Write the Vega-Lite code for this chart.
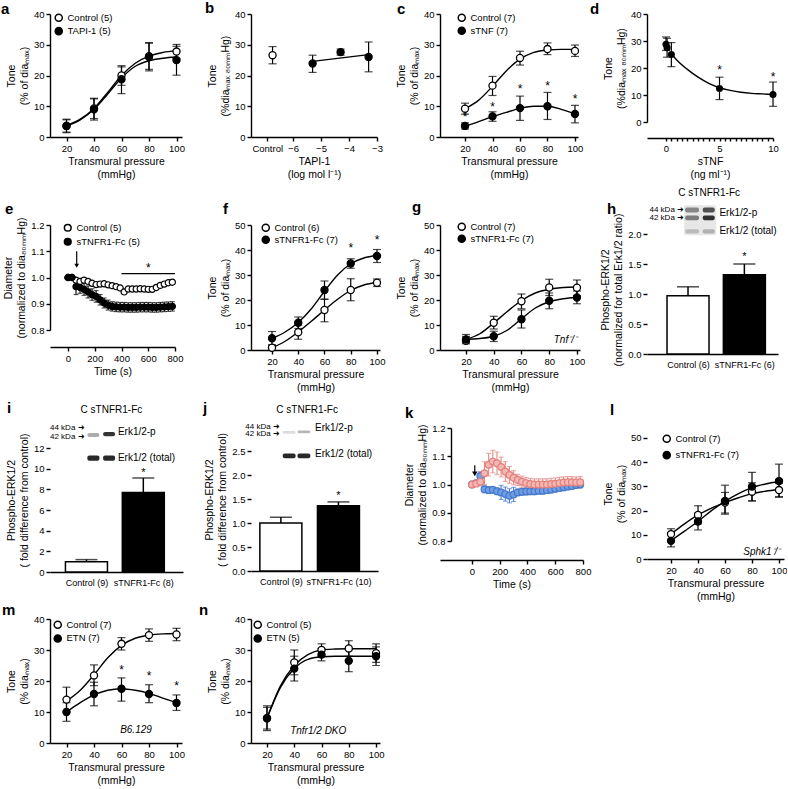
{
"$schema": "https://vega.github.io/schema/vega-lite/v6.json",
"padding": 0,
"background": "white",
"bounds": "flush",
"spacing": 0,
"columns": 8,
"align": "each",
"resolve": {"scale": {"fill": "independent", "stroke": "independent", "color": "independent"}},
"config": {
 "view": {"stroke": null},
 "font": "Liberation Sans",
 "axis": {"domainColor": "black", "domainWidth": 1.4, "tickColor": "black", "tickWidth": 1.4, "tickSize": 4, "labelFont": "Liberation Sans", "labelFontSize": 9.5, "labelColor": "black", "labelPadding": 2, "labelOverlap": false, "labelFlush": false, "titleFont": "Liberation Sans", "titleFontSize": 10.5, "titleFontWeight": "normal", "titleColor": "black", "titlePadding": 4, "titleLineHeight": 13, "grid": false},
 "legend": {"labelFont": "Liberation Sans", "labelFontSize": 9.5, "labelColor": "black", "padding": 0, "labelOffset": 4, "symbolSize": 45, "symbolType": "circle"},
 "title": {"anchor": "start", "frame": "group", "font": "Liberation Sans", "fontSize": 15, "fontWeight": "bold", "color": "black", "baseline": "alphabetic"},
 "text": {"font": "Liberation Sans", "color": "black"}
},
"datasets": {
 "a_curve": [{"group":"Control (5)","x":20,"y":3.8},{"group":"Control (5)","x":30,"y":5.8},{"group":"Control (5)","x":40,"y":9.3},{"group":"Control (5)","x":50,"y":14.5},{"group":"Control (5)","x":60,"y":20},{"group":"Control (5)","x":70,"y":24},{"group":"Control (5)","x":80,"y":26.3},{"group":"Control (5)","x":90,"y":27.5},{"group":"Control (5)","x":100,"y":28},
  {"group":"TAPI-1 (5)","x":20,"y":3.6},{"group":"TAPI-1 (5)","x":30,"y":5.6},{"group":"TAPI-1 (5)","x":40,"y":9.0},{"group":"TAPI-1 (5)","x":50,"y":14},{"group":"TAPI-1 (5)","x":60,"y":19.2},{"group":"TAPI-1 (5)","x":70,"y":23},{"group":"TAPI-1 (5)","x":80,"y":24.8},{"group":"TAPI-1 (5)","x":90,"y":25.6},{"group":"TAPI-1 (5)","x":100,"y":26}],
 "a_pts": [{"group":"Control (5)","x":20,"y":3.6,"lo":1.6,"hi":5.8},{"group":"Control (5)","x":40,"y":9.3,"lo":6.0,"hi":12.6},{"group":"Control (5)","x":60,"y":20.0,"lo":16.8,"hi":22.8},{"group":"Control (5)","x":80,"y":26.0,"lo":22.0,"hi":30.7},{"group":"Control (5)","x":100,"y":27.8,"lo":25.5,"hi":30.1},
  {"group":"TAPI-1 (5)","x":20,"y":3.6,"lo":1.4,"hi":5.6},{"group":"TAPI-1 (5)","x":40,"y":9.0,"lo":5.5,"hi":12.4},{"group":"TAPI-1 (5)","x":60,"y":18.8,"lo":14.1,"hi":23.2},{"group":"TAPI-1 (5)","x":80,"y":26.3,"lo":21.5,"hi":30.5},{"group":"TAPI-1 (5)","x":100,"y":25.0,"lo":20.1,"hi":29.5}],
 "b_line": [{"x":-5.3,"y":24.6},{"x":-3.3,"y":26.8}],
 "b_pts": [{"group":"Control","x":-6.73,"y":26.6,"lo":23.8,"hi":29.4},{"group":"TAPI-1","x":-5.3,"y":23.9,"lo":21.0,"hi":26.6},{"group":"TAPI-1","x":-4.3,"y":27.6,"lo":26.6,"hi":28.6},{"group":"TAPI-1","x":-3.3,"y":26.0,"lo":21.2,"hi":30.9}],
 "c_curve": [{"group":"Control (7)","x":20,"y":9.2},{"group":"Control (7)","x":30,"y":12},{"group":"Control (7)","x":40,"y":16.5},{"group":"Control (7)","x":50,"y":21.5},{"group":"Control (7)","x":60,"y":25.3},{"group":"Control (7)","x":70,"y":27.5},{"group":"Control (7)","x":80,"y":28.3},{"group":"Control (7)","x":90,"y":28.5},{"group":"Control (7)","x":100,"y":28.5},
  {"group":"sTNF (7)","x":20,"y":3.5},{"group":"sTNF (7)","x":30,"y":5},{"group":"sTNF (7)","x":40,"y":6.6},{"group":"sTNF (7)","x":50,"y":8},{"group":"sTNF (7)","x":60,"y":9.3},{"group":"sTNF (7)","x":70,"y":10},{"group":"sTNF (7)","x":80,"y":10},{"group":"sTNF (7)","x":90,"y":9},{"group":"sTNF (7)","x":100,"y":7.5}],
 "c_pts": [{"group":"Control (7)","x":20,"y":9.2,"lo":7.4,"hi":11.0},{"group":"Control (7)","x":40,"y":16.7,"lo":13.5,"hi":19.7},{"group":"Control (7)","x":60,"y":25.7,"lo":23.4,"hi":27.9},{"group":"Control (7)","x":80,"y":28.6,"lo":26.8,"hi":30.6},{"group":"Control (7)","x":100,"y":28.0,"lo":26.2,"hi":29.9},
  {"group":"sTNF (7)","x":20,"y":3.6,"lo":2.6,"hi":4.6},{"group":"sTNF (7)","x":40,"y":6.7,"lo":5.1,"hi":8.2},{"group":"sTNF (7)","x":60,"y":9.4,"lo":5.4,"hi":13.3},{"group":"sTNF (7)","x":80,"y":10.0,"lo":5.7,"hi":14.5},{"group":"sTNF (7)","x":100,"y":7.5,"lo":4.6,"hi":10.3}],
 "c_stars": [{"x":20,"y":6.5},{"x":40,"y":9.9},{"x":60,"y":15.5},{"x":80,"y":16.5},{"x":100,"y":12.3}],
 "d_curve": [{"x":0.5,"y":25.3},{"x":1,"y":23},{"x":2,"y":19.5},{"x":3,"y":16.6},{"x":4,"y":14.3},{"x":5,"y":12.7},{"x":6,"y":11.7},{"x":7,"y":11.0},{"x":8,"y":10.6},{"x":9,"y":10.4},{"x":10,"y":10.2}],
 "d_pts": [{"x":0,"y":28.8,"lo":26.5,"hi":31.5},{"x":0.1,"y":27.5,"lo":24.0,"hi":31.0},{"x":0.5,"y":25.0,"lo":20.5,"hi":29.4},{"x":5,"y":12.4,"lo":8.3,"hi":16.6},{"x":10,"y":10.2,"lo":5.8,"hi":14.8}],
 "d_stars": [{"x":5,"y":19.1},{"x":10,"y":16.8}],
 "e_pts": [
  {"group":"Control (5)","t":0,"y":1.0,"lo":0.996,"hi":1.004},{"group":"Control (5)","t":30,"y":1.0,"lo":0.996,"hi":1.004},{"group":"Control (5)","t":60,"y":0.99,"lo":0.982,"hi":0.998},{"group":"Control (5)","t":90,"y":0.985,"lo":0.977,"hi":0.993},{"group":"Control (5)","t":120,"y":0.99,"lo":0.982,"hi":0.998},{"group":"Control (5)","t":150,"y":0.985,"lo":0.977,"hi":0.993},{"group":"Control (5)","t":180,"y":0.978,"lo":0.970,"hi":0.986},{"group":"Control (5)","t":210,"y":0.973,"lo":0.965,"hi":0.981},{"group":"Control (5)","t":240,"y":0.975,"lo":0.967,"hi":0.983},{"group":"Control (5)","t":270,"y":0.976,"lo":0.968,"hi":0.984},{"group":"Control (5)","t":300,"y":0.972,"lo":0.964,"hi":0.980},{"group":"Control (5)","t":330,"y":0.969,"lo":0.961,"hi":0.977},{"group":"Control (5)","t":360,"y":0.965,"lo":0.957,"hi":0.973},{"group":"Control (5)","t":390,"y":0.96,"lo":0.952,"hi":0.968},{"group":"Control (5)","t":420,"y":0.945,"lo":0.937,"hi":0.953},{"group":"Control (5)","t":450,"y":0.956,"lo":0.948,"hi":0.964},{"group":"Control (5)","t":480,"y":0.956,"lo":0.948,"hi":0.964},{"group":"Control (5)","t":510,"y":0.956,"lo":0.948,"hi":0.964},{"group":"Control (5)","t":540,"y":0.957,"lo":0.949,"hi":0.965},{"group":"Control (5)","t":570,"y":0.956,"lo":0.948,"hi":0.964},{"group":"Control (5)","t":600,"y":0.955,"lo":0.947,"hi":0.963},{"group":"Control (5)","t":630,"y":0.955,"lo":0.947,"hi":0.963},{"group":"Control (5)","t":660,"y":0.962,"lo":0.954,"hi":0.970},{"group":"Control (5)","t":690,"y":0.97,"lo":0.962,"hi":0.978},{"group":"Control (5)","t":720,"y":0.975,"lo":0.967,"hi":0.983},{"group":"Control (5)","t":750,"y":0.98,"lo":0.972,"hi":0.988},{"group":"Control (5)","t":780,"y":0.982,"lo":0.974,"hi":0.990},
  {"group":"sTNFR1-Fc (5)","t":0,"y":1.0,"lo":0.996,"hi":1.004},{"group":"sTNFR1-Fc (5)","t":30,"y":1.0,"lo":0.995,"hi":1.005},{"group":"sTNFR1-Fc (5)","t":60,"y":0.965,"lo":0.935,"hi":0.995},{"group":"sTNFR1-Fc (5)","t":90,"y":0.962,"lo":0.94,"hi":0.984},{"group":"sTNFR1-Fc (5)","t":120,"y":0.955,"lo":0.932,"hi":0.978},{"group":"sTNFR1-Fc (5)","t":150,"y":0.945,"lo":0.922,"hi":0.968},{"group":"sTNFR1-Fc (5)","t":180,"y":0.935,"lo":0.913,"hi":0.957},{"group":"sTNFR1-Fc (5)","t":210,"y":0.928,"lo":0.906,"hi":0.95},{"group":"sTNFR1-Fc (5)","t":240,"y":0.915,"lo":0.895,"hi":0.935},{"group":"sTNFR1-Fc (5)","t":270,"y":0.903,"lo":0.884,"hi":0.922},{"group":"sTNFR1-Fc (5)","t":300,"y":0.895,"lo":0.876,"hi":0.914},{"group":"sTNFR1-Fc (5)","t":330,"y":0.89,"lo":0.872,"hi":0.908},{"group":"sTNFR1-Fc (5)","t":360,"y":0.888,"lo":0.870,"hi":0.906},{"group":"sTNFR1-Fc (5)","t":390,"y":0.887,"lo":0.869,"hi":0.905},{"group":"sTNFR1-Fc (5)","t":420,"y":0.887,"lo":0.869,"hi":0.905},{"group":"sTNFR1-Fc (5)","t":450,"y":0.886,"lo":0.868,"hi":0.904},{"group":"sTNFR1-Fc (5)","t":480,"y":0.886,"lo":0.868,"hi":0.904},{"group":"sTNFR1-Fc (5)","t":510,"y":0.886,"lo":0.868,"hi":0.904},{"group":"sTNFR1-Fc (5)","t":540,"y":0.887,"lo":0.869,"hi":0.905},{"group":"sTNFR1-Fc (5)","t":570,"y":0.887,"lo":0.869,"hi":0.905},{"group":"sTNFR1-Fc (5)","t":600,"y":0.887,"lo":0.869,"hi":0.905},{"group":"sTNFR1-Fc (5)","t":630,"y":0.886,"lo":0.868,"hi":0.904},{"group":"sTNFR1-Fc (5)","t":660,"y":0.886,"lo":0.868,"hi":0.904},{"group":"sTNFR1-Fc (5)","t":690,"y":0.887,"lo":0.869,"hi":0.905},{"group":"sTNFR1-Fc (5)","t":720,"y":0.888,"lo":0.870,"hi":0.906},{"group":"sTNFR1-Fc (5)","t":750,"y":0.889,"lo":0.871,"hi":0.907},{"group":"sTNFR1-Fc (5)","t":780,"y":0.89,"lo":0.872,"hi":0.908}],
 "e_sig": [{"t":400,"t2":800,"y":1.015}],
 "e_star": [{"t":600,"y":1.036}],
 "e_arrow": [{"t":65,"y":1.1,"y2":1.045}],
 "f_curve": [{"group":"Control (6)","x":20,"y":0.8},{"group":"Control (6)","x":30,"y":3.5},{"group":"Control (6)","x":40,"y":7.2},{"group":"Control (6)","x":50,"y":11.5},{"group":"Control (6)","x":60,"y":16},{"group":"Control (6)","x":70,"y":20.3},{"group":"Control (6)","x":80,"y":23.8},{"group":"Control (6)","x":90,"y":26},{"group":"Control (6)","x":100,"y":27},
  {"group":"sTNFR1-Fc (7)","x":20,"y":4.6},{"group":"sTNFR1-Fc (7)","x":30,"y":7.2},{"group":"sTNFR1-Fc (7)","x":40,"y":11},{"group":"sTNFR1-Fc (7)","x":50,"y":16.5},{"group":"sTNFR1-Fc (7)","x":60,"y":23.5},{"group":"sTNFR1-Fc (7)","x":70,"y":30},{"group":"sTNFR1-Fc (7)","x":80,"y":34.5},{"group":"sTNFR1-Fc (7)","x":90,"y":36.8},{"group":"sTNFR1-Fc (7)","x":100,"y":37.8}],
 "f_pts": [{"group":"Control (6)","x":20,"y":0.9,"lo":0,"hi":2.0},{"group":"Control (6)","x":40,"y":7.1,"lo":4.3,"hi":10.0},{"group":"Control (6)","x":60,"y":16.0,"lo":11.3,"hi":20.3},{"group":"Control (6)","x":80,"y":24.0,"lo":19.7,"hi":28.5},{"group":"Control (6)","x":100,"y":26.9,"lo":25.4,"hi":28.4},
  {"group":"sTNFR1-Fc (7)","x":20,"y":4.7,"lo":2.0,"hi":7.4},{"group":"sTNFR1-Fc (7)","x":40,"y":10.9,"lo":8.6,"hi":13.2},{"group":"sTNFR1-Fc (7)","x":60,"y":24.0,"lo":20.3,"hi":27.6},{"group":"sTNFR1-Fc (7)","x":80,"y":34.6,"lo":32.7,"hi":36.5},{"group":"sTNFR1-Fc (7)","x":100,"y":37.6,"lo":35.0,"hi":40.2}],
 "f_stars": [{"x":80,"y":40.7},{"x":100,"y":44}],
 "g_curve": [{"group":"Control (7)","x":20,"y":4.2},{"group":"Control (7)","x":30,"y":6.5},{"group":"Control (7)","x":40,"y":10.8},{"group":"Control (7)","x":50,"y":15.5},{"group":"Control (7)","x":60,"y":19.8},{"group":"Control (7)","x":70,"y":22.8},{"group":"Control (7)","x":80,"y":24.3},{"group":"Control (7)","x":90,"y":25},{"group":"Control (7)","x":100,"y":25.2},
  {"group":"sTNFR1-Fc (7)","x":20,"y":4.3},{"group":"sTNFR1-Fc (7)","x":30,"y":4.6},{"group":"sTNFR1-Fc (7)","x":40,"y":5.5},{"group":"sTNFR1-Fc (7)","x":50,"y":8},{"group":"sTNFR1-Fc (7)","x":60,"y":12.5},{"group":"sTNFR1-Fc (7)","x":70,"y":16.8},{"group":"sTNFR1-Fc (7)","x":80,"y":19.3},{"group":"sTNFR1-Fc (7)","x":90,"y":20.5},{"group":"sTNFR1-Fc (7)","x":100,"y":21}],
 "g_pts": [{"group":"Control (7)","x":20,"y":3.7,"lo":2.5,"hi":6.2},{"group":"Control (7)","x":40,"y":10.9,"lo":8.4,"hi":13.5},{"group":"Control (7)","x":60,"y":19.5,"lo":16.5,"hi":22.4},{"group":"Control (7)","x":80,"y":25.0,"lo":21.8,"hi":28.3},{"group":"Control (7)","x":100,"y":24.9,"lo":21.8,"hi":28.0},
  {"group":"sTNFR1-Fc (7)","x":20,"y":4.2,"lo":3.0,"hi":5.4},{"group":"sTNFR1-Fc (7)","x":40,"y":5.5,"lo":3.4,"hi":7.5},{"group":"sTNFR1-Fc (7)","x":60,"y":12.3,"lo":8.8,"hi":16.0},{"group":"sTNFR1-Fc (7)","x":80,"y":19.7,"lo":16.5,"hi":22.8},{"group":"sTNFR1-Fc (7)","x":100,"y":21.0,"lo":18.5,"hi":23.6}],
 "g_note": [{"x":100,"y":4,"label":"Tnf⁻/⁻"}],
 "h_bars": [{"group":"Control (6)","x":1,"y":0.97,"hi":1.12},{"group":"sTNFR1-Fc (6)","x":2,"y":1.32,"hi":1.5}],
 "h_star": [{"x":2,"y":1.61}],
 "h_blot": [{"x":0.93,"x2":1.5,"y":1.98,"y2":2.48,"intensity":0.1},{"x":0.949,"x2":1.195,"y":2.36,"y2":2.44,"intensity":0.45},{"x":0.949,"x2":1.195,"y":2.23,"y2":2.31,"intensity":0.5},{"x":1.261,"x2":1.474,"y":2.36,"y2":2.44,"intensity":0.7},{"x":1.261,"x2":1.474,"y":2.23,"y2":2.31,"intensity":0.85},{"x":0.949,"x2":1.195,"y":2.01,"y2":2.08,"intensity":0.2},{"x":1.261,"x2":1.474,"y":2.01,"y2":2.08,"intensity":0.25}],
 "h_kda": [{"x":0.93,"y":2.4,"label":"44 kDa ➜"},{"x":0.93,"y":2.27,"label":"42 kDa ➜"}],
 "h_lab": [{"x":1.557,"y":2.35,"label":"Erk1/2-p"},{"x":1.557,"y":2.05,"label":"Erk1/2 (total)"}],
 "h_head": [{"x":1.376,"y":2.68,"label":"C sTNFR1-Fc"}],
 "i_bars": [{"group":"Control (9)","x":1,"y":1.0,"hi":1.2},{"group":"sTNFR1-Fc (8)","x":2,"y":7.7,"hi":9.1}],
 "i_star": [{"x":2,"y":9.6}],
 "i_blot": [{"x":1.016,"x2":1.228,"y":13.06,"y2":13.46,"intensity":0.35},{"x":1.293,"x2":1.504,"y":13.15,"y2":13.55,"intensity":0.85},{"x":1.016,"x2":1.228,"y":10.78,"y2":11.28,"intensity":0.9},{"x":1.293,"x2":1.504,"y":10.78,"y2":11.28,"intensity":0.9}],
 "i_kda": [{"x":0.967,"y":13.94,"label":"44 kDa ➜"},{"x":0.967,"y":13.06,"label":"42 kDa ➜"}],
 "i_lab": [{"x":1.553,"y":13.55,"label":"Erk1/2-p"},{"x":1.553,"y":11.03,"label":"Erk1/2 (total)"}],
 "i_head": [{"x":1.439,"y":15.68,"label":"C sTNFR1-Fc"}],
 "j_bars": [{"group":"Control (9)","x":1,"y":1.0,"hi":1.12},{"group":"sTNFR1-Fc (10)","x":2,"y":1.36,"hi":1.44}],
 "j_star": [{"x":2,"y":1.56}],
 "j_blot": [{"x":1.032,"x2":1.256,"y":2.86,"y2":2.92,"intensity":0.15},{"x":1.288,"x2":1.512,"y":2.87,"y2":2.93,"intensity":0.3},{"x":1.032,"x2":1.256,"y":2.35,"y2":2.45,"intensity":0.9},{"x":1.288,"x2":1.512,"y":2.35,"y2":2.45,"intensity":0.9}],
 "j_kda": [{"x":0.984,"y":2.994,"label":"44 kDa ➜"},{"x":0.984,"y":2.848,"label":"42 kDa ➜"}],
 "j_lab": [{"x":1.592,"y":2.973,"label":"Erk1/2-p"},{"x":1.592,"y":2.43,"label":"Erk1/2 (total)"}],
 "j_head": [{"x":1.456,"y":3.354,"label":"C sTNFR1-Fc"}],
 "k_pts": [
  {"group":"PD98059 (8)","t":0,"y":1.0,"lo":0.996,"hi":1.004},{"group":"PD98059 (8)","t":30,"y":1.005,"lo":0.995,"hi":1.015},{"group":"PD98059 (8)","t":60,"y":1.03,"lo":1.015,"hi":1.045},{"group":"PD98059 (8)","t":90,"y":0.983,"lo":0.971,"hi":0.995},{"group":"PD98059 (8)","t":120,"y":0.98,"lo":0.968,"hi":0.992},{"group":"PD98059 (8)","t":150,"y":0.981,"lo":0.969,"hi":0.993},{"group":"PD98059 (8)","t":180,"y":0.976,"lo":0.964,"hi":0.988},{"group":"PD98059 (8)","t":210,"y":0.972,"lo":0.947,"hi":0.997},{"group":"PD98059 (8)","t":240,"y":0.966,"lo":0.941,"hi":0.991},{"group":"PD98059 (8)","t":270,"y":0.96,"lo":0.935,"hi":0.985},{"group":"PD98059 (8)","t":300,"y":0.965,"lo":0.94,"hi":0.99},{"group":"PD98059 (8)","t":330,"y":0.972,"lo":0.96,"hi":0.984},{"group":"PD98059 (8)","t":360,"y":0.974,"lo":0.962,"hi":0.986},{"group":"PD98059 (8)","t":390,"y":0.975,"lo":0.963,"hi":0.987},{"group":"PD98059 (8)","t":420,"y":0.976,"lo":0.964,"hi":0.988},{"group":"PD98059 (8)","t":450,"y":0.976,"lo":0.964,"hi":0.988},{"group":"PD98059 (8)","t":480,"y":0.978,"lo":0.966,"hi":0.99},{"group":"PD98059 (8)","t":510,"y":0.978,"lo":0.966,"hi":0.99},{"group":"PD98059 (8)","t":540,"y":0.98,"lo":0.968,"hi":0.992},{"group":"PD98059 (8)","t":570,"y":0.982,"lo":0.97,"hi":0.994},{"group":"PD98059 (8)","t":600,"y":0.985,"lo":0.973,"hi":0.997},{"group":"PD98059 (8)","t":630,"y":0.988,"lo":0.976,"hi":1.0},{"group":"PD98059 (8)","t":660,"y":0.99,"lo":0.978,"hi":1.002},{"group":"PD98059 (8)","t":690,"y":0.993,"lo":0.981,"hi":1.005},{"group":"PD98059 (8)","t":720,"y":0.995,"lo":0.983,"hi":1.007},{"group":"PD98059 (8)","t":750,"y":0.998,"lo":0.986,"hi":1.01},{"group":"PD98059 (8)","t":780,"y":1.0,"lo":0.988,"hi":1.012},
  {"group":"PD98059 + sTNFRI-Fc (8)","t":0,"y":1.0,"lo":0.995,"hi":1.005},{"group":"PD98059 + sTNFRI-Fc (8)","t":30,"y":1.003,"lo":0.995,"hi":1.011},{"group":"PD98059 + sTNFRI-Fc (8)","t":60,"y":1.01,"lo":0.995,"hi":1.025},{"group":"PD98059 + sTNFRI-Fc (8)","t":90,"y":1.04,"lo":1.0,"hi":1.08},{"group":"PD98059 + sTNFRI-Fc (8)","t":120,"y":1.07,"lo":1.03,"hi":1.11},{"group":"PD98059 + sTNFRI-Fc (8)","t":150,"y":1.081,"lo":1.041,"hi":1.121},{"group":"PD98059 + sTNFRI-Fc (8)","t":180,"y":1.075,"lo":1.035,"hi":1.115},{"group":"PD98059 + sTNFRI-Fc (8)","t":210,"y":1.062,"lo":1.027,"hi":1.097},{"group":"PD98059 + sTNFRI-Fc (8)","t":240,"y":1.046,"lo":1.011,"hi":1.081},{"group":"PD98059 + sTNFRI-Fc (8)","t":270,"y":1.034,"lo":1.004,"hi":1.064},{"group":"PD98059 + sTNFRI-Fc (8)","t":300,"y":1.024,"lo":0.999,"hi":1.049},{"group":"PD98059 + sTNFRI-Fc (8)","t":330,"y":1.016,"lo":0.996,"hi":1.036},{"group":"PD98059 + sTNFRI-Fc (8)","t":360,"y":1.01,"lo":0.99,"hi":1.03},{"group":"PD98059 + sTNFRI-Fc (8)","t":390,"y":1.005,"lo":0.985,"hi":1.025},{"group":"PD98059 + sTNFRI-Fc (8)","t":420,"y":1.002,"lo":0.982,"hi":1.022},{"group":"PD98059 + sTNFRI-Fc (8)","t":450,"y":1.0,"lo":0.98,"hi":1.02},{"group":"PD98059 + sTNFRI-Fc (8)","t":480,"y":1.0,"lo":0.98,"hi":1.02},{"group":"PD98059 + sTNFRI-Fc (8)","t":510,"y":1.0,"lo":0.98,"hi":1.02},{"group":"PD98059 + sTNFRI-Fc (8)","t":540,"y":1.0,"lo":0.98,"hi":1.02},{"group":"PD98059 + sTNFRI-Fc (8)","t":570,"y":1.002,"lo":0.982,"hi":1.022},{"group":"PD98059 + sTNFRI-Fc (8)","t":600,"y":1.003,"lo":0.983,"hi":1.023},{"group":"PD98059 + sTNFRI-Fc (8)","t":630,"y":1.005,"lo":0.985,"hi":1.025},{"group":"PD98059 + sTNFRI-Fc (8)","t":660,"y":1.007,"lo":0.987,"hi":1.027},{"group":"PD98059 + sTNFRI-Fc (8)","t":690,"y":1.008,"lo":0.988,"hi":1.028},{"group":"PD98059 + sTNFRI-Fc (8)","t":720,"y":1.008,"lo":0.988,"hi":1.028},{"group":"PD98059 + sTNFRI-Fc (8)","t":750,"y":1.007,"lo":0.987,"hi":1.027},{"group":"PD98059 + sTNFRI-Fc (8)","t":780,"y":1.008,"lo":0.988,"hi":1.028}],
 "k_arrow": [{"t":20,"y":1.068,"y2":1.038}],
 "l_curve": [{"group":"Control (7)","x":20,"y":10.3},{"group":"Control (7)","x":30,"y":14.5},{"group":"Control (7)","x":40,"y":18.2},{"group":"Control (7)","x":50,"y":21},{"group":"Control (7)","x":60,"y":23.3},{"group":"Control (7)","x":70,"y":25.3},{"group":"Control (7)","x":80,"y":27},{"group":"Control (7)","x":90,"y":28},{"group":"Control (7)","x":100,"y":28.7},
  {"group":"sTNFR1-Fc (7)","x":20,"y":7.6},{"group":"sTNFR1-Fc (7)","x":30,"y":11.5},{"group":"sTNFR1-Fc (7)","x":40,"y":15.5},{"group":"sTNFR1-Fc (7)","x":50,"y":20},{"group":"sTNFR1-Fc (7)","x":60,"y":23.8},{"group":"sTNFR1-Fc (7)","x":70,"y":27},{"group":"sTNFR1-Fc (7)","x":80,"y":29.5},{"group":"sTNFR1-Fc (7)","x":90,"y":31},{"group":"sTNFR1-Fc (7)","x":100,"y":32}],
 "l_pts": [{"group":"Control (7)","x":20,"y":10.3,"lo":8.2,"hi":12.5},{"group":"Control (7)","x":40,"y":18.2,"lo":14.5,"hi":22.0},{"group":"Control (7)","x":60,"y":23.3,"lo":19.0,"hi":27.5},{"group":"Control (7)","x":80,"y":27.8,"lo":24.0,"hi":31.5},{"group":"Control (7)","x":100,"y":28.5,"lo":25.8,"hi":31.2},
  {"group":"sTNFR1-Fc (7)","x":20,"y":7.5,"lo":5.0,"hi":10.0},{"group":"sTNFR1-Fc (7)","x":40,"y":15.5,"lo":12.0,"hi":19.0},{"group":"sTNFR1-Fc (7)","x":60,"y":24.0,"lo":18.5,"hi":30.5},{"group":"sTNFR1-Fc (7)","x":80,"y":29.9,"lo":24.0,"hi":35.8},{"group":"sTNFR1-Fc (7)","x":100,"y":32.2,"lo":25.5,"hi":39.2}],
 "l_note": [{"x":101,"y":3,"label":"Sphk1⁻/⁻"}],
 "m_curve": [{"group":"Control (7)","x":20,"y":13.5},{"group":"Control (7)","x":30,"y":17},{"group":"Control (7)","x":40,"y":22},{"group":"Control (7)","x":50,"y":27.5},{"group":"Control (7)","x":60,"y":31.5},{"group":"Control (7)","x":70,"y":33.8},{"group":"Control (7)","x":80,"y":34.8},{"group":"Control (7)","x":90,"y":35.2},{"group":"Control (7)","x":100,"y":35.3},
  {"group":"ETN (7)","x":20,"y":10},{"group":"ETN (7)","x":30,"y":13},{"group":"ETN (7)","x":40,"y":15.5},{"group":"ETN (7)","x":50,"y":17},{"group":"ETN (7)","x":60,"y":17.5},{"group":"ETN (7)","x":70,"y":17},{"group":"ETN (7)","x":80,"y":16},{"group":"ETN (7)","x":90,"y":14.5},{"group":"ETN (7)","x":100,"y":13}],
 "m_pts": [{"group":"Control (7)","x":20,"y":14.0,"lo":10.0,"hi":18.0},{"group":"Control (7)","x":40,"y":21.8,"lo":18.5,"hi":25.2},{"group":"Control (7)","x":60,"y":32.0,"lo":30.0,"hi":34.0},{"group":"Control (7)","x":80,"y":34.8,"lo":32.8,"hi":36.8},{"group":"Control (7)","x":100,"y":35.0,"lo":33.0,"hi":37.0},
  {"group":"ETN (7)","x":20,"y":10.0,"lo":7.0,"hi":13.0},{"group":"ETN (7)","x":40,"y":15.8,"lo":12.0,"hi":19.6},{"group":"ETN (7)","x":60,"y":17.5,"lo":13.5,"hi":21.0},{"group":"ETN (7)","x":80,"y":15.8,"lo":13.0,"hi":18.8},{"group":"ETN (7)","x":100,"y":12.9,"lo":10.5,"hi":15.5}],
 "m_stars": [{"x":60,"y":23.5},{"x":80,"y":21.5},{"x":100,"y":18.5}],
 "m_note": [{"x":59,"y":4.2,"label":"B6.129"}],
 "n_curve": [{"group":"Control (5)","x":20,"y":8},{"group":"Control (5)","x":30,"y":18.5},{"group":"Control (5)","x":40,"y":25},{"group":"Control (5)","x":50,"y":28.5},{"group":"Control (5)","x":60,"y":30},{"group":"Control (5)","x":70,"y":30.3},{"group":"Control (5)","x":80,"y":30.4},{"group":"Control (5)","x":90,"y":30.4},{"group":"Control (5)","x":100,"y":30.4},
  {"group":"ETN (5)","x":20,"y":8},{"group":"ETN (5)","x":30,"y":18},{"group":"ETN (5)","x":40,"y":24},{"group":"ETN (5)","x":50,"y":27},{"group":"ETN (5)","x":60,"y":27.8},{"group":"ETN (5)","x":70,"y":28},{"group":"ETN (5)","x":80,"y":28},{"group":"ETN (5)","x":90,"y":28},{"group":"ETN (5)","x":100,"y":28}],
 "n_pts": [{"group":"Control (5)","x":20,"y":8.0,"lo":4.0,"hi":12.0},{"group":"Control (5)","x":40,"y":26.0,"lo":22.0,"hi":30.0},{"group":"Control (5)","x":60,"y":30.0,"lo":28.0,"hi":32.0},{"group":"Control (5)","x":80,"y":30.5,"lo":28.0,"hi":33.0},{"group":"Control (5)","x":100,"y":29.0,"lo":26.0,"hi":32.0},
  {"group":"ETN (5)","x":20,"y":8.0,"lo":4.5,"hi":11.5},{"group":"ETN (5)","x":40,"y":24.0,"lo":20.0,"hi":28.0},{"group":"ETN (5)","x":60,"y":28.5,"lo":26.5,"hi":30.5},{"group":"ETN (5)","x":80,"y":26.5,"lo":23.0,"hi":30.0},{"group":"ETN (5)","x":100,"y":28.0,"lo":25.0,"hi":31.0}],
 "n_note": [{"x":37,"y":3.9,"label":"Tnfr1/2 DKO"}]
},
"concat": [
 {"width": 50, "height": 14, "data": {"values": []}, "mark": "point"},
 {"width": 1, "height": 14, "data": {"values": []}, "mark": "point"},
 {"width": 68, "height": 14, "data": {"values": []}, "mark": "point"},
 {"width": 1, "height": 14, "data": {"values": []}, "mark": "point"},
 {"width": 60, "height": 14, "data": {"values": []}, "mark": "point"},
 {"width": 1, "height": 14, "data": {"values": []}, "mark": "point"},
 {"width": 64, "height": 14, "data": {"values": []}, "mark": "point"},
 {"width": 1, "height": 14, "data": {"values": []}, "mark": "point"},

 {"width": 1, "height": 1, "data": {"values": []}, "mark": "point"},
 {"width": 132, "height": 123, "title": {"text": "a", "dx": -49, "offset": -8},
    "encoding": {"x": {"field": "x", "type": "quantitative", "scale": {"domain": [8, 104]}, "axis": {"values": [20,40,60,80,100], "title": ["Transmural pressure", "(mmHg)"]}},
      "y": {"field": "y", "type": "quantitative", "scale": {"domain": [0, 40]}, "axis": {"values": [0,10,20,30,40], "title": ["Tone", "(% of diaₘₐₓ)"]}}},
    "layer": [
     {"data": {"name": "a_curve"}, "mark": {"type": "line", "interpolate": "monotone", "color": "black", "strokeWidth": 1.4}, "encoding": {"detail": {"field": "group"}}},
     {"data": {"name": "a_pts"}, "mark": {"type": "rule", "color": "black", "strokeWidth": 1.2}, "encoding": {"y": {"field": "lo", "type": "quantitative"}, "y2": {"field": "hi"}}},
     {"data": {"name": "a_pts"}, "mark": {"type": "tick", "orient": "horizontal", "size": 8, "thickness": 1.2, "color": "black"}, "encoding": {"y": {"field": "lo", "type": "quantitative"}}},
     {"data": {"name": "a_pts"}, "mark": {"type": "tick", "orient": "horizontal", "size": 8, "thickness": 1.2, "color": "black"}, "encoding": {"y": {"field": "hi", "type": "quantitative"}}},
     {"data": {"name": "a_pts"}, "mark": {"type": "point", "filled": true, "opacity": 1, "size": 50, "stroke": "black", "strokeWidth": 1.3}, "encoding": {"fill": {"field": "group", "type": "nominal", "scale": {"domain": ["Control (5)", "TAPI-1 (5)"], "range": ["white", "black"]}, "legend": {"orient": "none", "legendX": 4, "legendY": -1, "title": null, "rowPadding": -0.6, "symbolSize": 50, "encode": {"symbols": {"update": {"stroke": {"value": "black"}, "strokeWidth": {"value": 1.3}}}}}}}}
    ]},
 {"width": 1, "height": 1, "data": {"values": []}, "mark": "point"},
 {"width": 126, "height": 123, "title": {"text": "b", "dx": -46, "offset": -7},
    "encoding": {"x": {"field": "x", "type": "quantitative", "scale": {"domain": [-7.5, -3]}, "axis": {"values": [-6.92,-6,-5,-4,-3], "labelExpr": "datum.value < -6.5 ? 'Control' : datum.label", "title": ["TAPI-1", "(log mol l⁻¹)"]}},
      "y": {"field": "y", "type": "quantitative", "scale": {"domain": [0, 40]}, "axis": {"values": [0,10,20,30,40], "title": ["Tone", "(%diaₘₐₓ ₈₀ₘₘHg)"]}}},
    "layer": [
     {"data": {"name": "b_line"}, "mark": {"type": "line", "color": "black", "strokeWidth": 1.4}, "encoding": {}},
     {"data": {"name": "b_pts"}, "mark": {"type": "rule", "color": "black", "strokeWidth": 1.2}, "encoding": {"y": {"field": "lo", "type": "quantitative"}, "y2": {"field": "hi"}}},
     {"data": {"name": "b_pts"}, "mark": {"type": "tick", "orient": "horizontal", "size": 8, "thickness": 1.2, "color": "black"}, "encoding": {"y": {"field": "lo", "type": "quantitative"}}},
     {"data": {"name": "b_pts"}, "mark": {"type": "tick", "orient": "horizontal", "size": 8, "thickness": 1.2, "color": "black"}, "encoding": {"y": {"field": "hi", "type": "quantitative"}}},
     {"data": {"name": "b_pts"}, "mark": {"type": "point", "filled": true, "opacity": 1, "size": 50, "stroke": "black", "strokeWidth": 1.3}, "encoding": {"fill": {"field": "group", "type": "nominal", "scale": {"domain": ["Control", "TAPI-1"], "range": ["white", "black"]}, "legend": null}}}
    ]},
 {"width": 1, "height": 1, "data": {"values": []}, "mark": "point"},
 {"width": 138, "height": 123, "title": {"text": "c", "dx": -43, "offset": -8},
    "encoding": {"x": {"field": "x", "type": "quantitative", "scale": {"domain": [1.8, 102.2]}, "axis": {"values": [20,40,60,80,100], "title": ["Transmural pressure", "(mmHg)"]}},
      "y": {"field": "y", "type": "quantitative", "scale": {"domain": [0, 40]}, "axis": {"values": [0,10,20,30,40], "title": ["Tone", "(% of diaₘₐₓ)"]}}},
    "layer": [
     {"data": {"name": "c_curve"}, "mark": {"type": "line", "interpolate": "monotone", "color": "black", "strokeWidth": 1.4}, "encoding": {"detail": {"field": "group"}}},
     {"data": {"name": "c_pts"}, "mark": {"type": "rule", "color": "black", "strokeWidth": 1.2}, "encoding": {"y": {"field": "lo", "type": "quantitative"}, "y2": {"field": "hi"}}},
     {"data": {"name": "c_pts"}, "mark": {"type": "tick", "orient": "horizontal", "size": 8, "thickness": 1.2, "color": "black"}, "encoding": {"y": {"field": "lo", "type": "quantitative"}}},
     {"data": {"name": "c_pts"}, "mark": {"type": "tick", "orient": "horizontal", "size": 8, "thickness": 1.2, "color": "black"}, "encoding": {"y": {"field": "hi", "type": "quantitative"}}},
     {"data": {"name": "c_pts"}, "mark": {"type": "point", "filled": true, "opacity": 1, "size": 50, "stroke": "black", "strokeWidth": 1.3}, "encoding": {"fill": {"field": "group", "type": "nominal", "scale": {"domain": ["Control (7)", "sTNF (7)"], "range": ["white", "black"]}, "legend": {"orient": "none", "legendX": 17, "legendY": -1, "title": null, "rowPadding": -1, "symbolSize": 50, "encode": {"symbols": {"update": {"stroke": {"value": "black"}, "strokeWidth": {"value": 1.3}}}}}}}},
     {"data": {"name": "c_stars"}, "mark": {"type": "text", "text": "*", "fontSize": 12, "baseline": "middle"}, "encoding": {}}
    ]},
 {"width": 1, "height": 1, "data": {"values": []}, "mark": "point"},
 {"width": 126, "height": 108, "title": {"text": "d", "dx": -57, "offset": -8},
    "encoding": {"x": {"field": "x", "type": "quantitative", "scale": {"domain": [-1.776, 10]}, "axis": {"values": [0,0.5,1,1.5,2,2.5,3,3.5,4,4.5,5,5.5,6,6.5,7,7.5,8,8.5,9,9.5,10], "labelExpr": "datum.value % 5 == 0 ? format(datum.value, 'd') : ''", "tickSize": 3, "offset": 16, "title": ["sTNF", "(ng ml⁻¹)"]}},
      "y": {"field": "y", "type": "quantitative", "scale": {"domain": [0, 40]}, "axis": {"values": [0,10,20,30,40], "title": ["Tone", "(%diaₘₐₓ ₈₀ₘₘHg)"]}}},
    "layer": [
     {"data": {"name": "d_curve"}, "mark": {"type": "line", "interpolate": "monotone", "color": "black", "strokeWidth": 1.4}, "encoding": {}},
     {"data": {"name": "d_pts"}, "mark": {"type": "rule", "color": "black", "strokeWidth": 1.2}, "encoding": {"y": {"field": "lo", "type": "quantitative"}, "y2": {"field": "hi"}}},
     {"data": {"name": "d_pts"}, "mark": {"type": "tick", "orient": "horizontal", "size": 8, "thickness": 1.2, "color": "black"}, "encoding": {"y": {"field": "lo", "type": "quantitative"}}},
     {"data": {"name": "d_pts"}, "mark": {"type": "tick", "orient": "horizontal", "size": 8, "thickness": 1.2, "color": "black"}, "encoding": {"y": {"field": "hi", "type": "quantitative"}}},
     {"data": {"name": "d_pts"}, "mark": {"type": "point", "filled": true, "opacity": 1, "size": 50, "color": "black"}, "encoding": {}},
     {"data": {"name": "d_stars"}, "mark": {"type": "text", "text": "*", "fontSize": 12, "baseline": "middle"}, "encoding": {}}
    ]},

 {"width": 1, "height": 88, "data": {"values": []}, "mark": "point"},
 {"width": 1, "height": 1, "data": {"values": []}, "mark": "point"},
 {"width": 1, "height": 1, "data": {"values": []}, "mark": "point"},
 {"width": 1, "height": 1, "data": {"values": []}, "mark": "point"},
 {"width": 1, "height": 1, "data": {"values": []}, "mark": "point"},
 {"width": 1, "height": 1, "data": {"values": []}, "mark": "point"},
 {"width": 1, "height": 1, "data": {"values": []}, "mark": "point"},
 {"width": 1, "height": 1, "data": {"values": []}, "mark": "point"},

 {"width": 1, "height": 1, "data": {"values": []}, "mark": "point"},
 {"width": 125, "height": 105, "title": {"text": "e", "dx": -45, "offset": 0},
    "encoding": {"x": {"field": "t", "type": "quantitative", "scale": {"domain": [-134.6, 800]}, "axis": {"values": [0,200,400,600,800], "offset": 17, "title": "Time (s)"}},
      "y": {"field": "y", "type": "quantitative", "scale": {"domain": [0.8, 1.2]}, "axis": {"values": [0.8,0.9,1.0,1.1,1.2], "format": ".1f", "title": ["Diameter", "(normalized to dia₈₀ₘₘHg)"]}}},
    "layer": [
     {"data": {"name": "e_pts"}, "mark": {"type": "rule", "color": "black", "strokeWidth": 1.1}, "encoding": {"y": {"field": "lo", "type": "quantitative"}, "y2": {"field": "hi"}}},
     {"data": {"name": "e_pts"}, "mark": {"type": "tick", "orient": "horizontal", "size": 5, "thickness": 1.1, "color": "black"}, "encoding": {"y": {"field": "lo", "type": "quantitative"}}},
     {"data": {"name": "e_pts"}, "mark": {"type": "tick", "orient": "horizontal", "size": 5, "thickness": 1.1, "color": "black"}, "encoding": {"y": {"field": "hi", "type": "quantitative"}}},
     {"data": {"name": "e_pts"}, "mark": {"type": "point", "filled": true, "opacity": 1, "size": 38, "stroke": "black", "strokeWidth": 1.2}, "encoding": {"fill": {"field": "group", "type": "nominal", "scale": {"domain": ["Control (5)", "sTNFR1-Fc (5)"], "range": ["white", "black"]}, "legend": {"orient": "none", "legendX": 13, "legendY": -2, "title": null, "rowPadding": 0, "symbolSize": 45, "encode": {"symbols": {"update": {"stroke": {"value": "black"}, "strokeWidth": {"value": 1.3}}}}}}}},
     {"data": {"name": "e_sig"}, "mark": {"type": "rule", "color": "black", "strokeWidth": 1.2}, "encoding": {"x2": {"field": "t2"}}},
     {"data": {"name": "e_star"}, "mark": {"type": "text", "text": "*", "fontSize": 12, "baseline": "middle"}, "encoding": {}},
     {"data": {"name": "e_arrow"}, "mark": {"type": "rule", "color": "black", "strokeWidth": 1.2}, "encoding": {"y2": {"field": "y2"}}},
     {"data": {"name": "e_arrow"}, "mark": {"type": "point", "shape": "triangle-down", "filled": true, "opacity": 1, "color": "black", "size": 22}, "encoding": {"y": {"field": "y2", "type": "quantitative"}}}
    ]},
 {"width": 1, "height": 1, "data": {"values": []}, "mark": "point"},
 {"width": 129, "height": 125, "title": {"text": "f", "dx": -28, "offset": 3},
    "encoding": {"x": {"field": "x", "type": "quantitative", "scale": {"domain": [4.0, 102.3]}, "axis": {"values": [20,40,60,80,100], "title": ["Transmural pressure", "(mmHg)"]}},
      "y": {"field": "y", "type": "quantitative", "scale": {"domain": [0, 50]}, "axis": {"values": [0,10,20,30,40,50], "title": ["Tone", "(% of diaₘₐₓ)"]}}},
    "layer": [
     {"data": {"name": "f_curve"}, "mark": {"type": "line", "interpolate": "monotone", "color": "black", "strokeWidth": 1.4}, "encoding": {"detail": {"field": "group"}}},
     {"data": {"name": "f_pts"}, "mark": {"type": "rule", "color": "black", "strokeWidth": 1.2}, "encoding": {"y": {"field": "lo", "type": "quantitative"}, "y2": {"field": "hi"}}},
     {"data": {"name": "f_pts"}, "mark": {"type": "tick", "orient": "horizontal", "size": 8, "thickness": 1.2, "color": "black"}, "encoding": {"y": {"field": "lo", "type": "quantitative"}}},
     {"data": {"name": "f_pts"}, "mark": {"type": "tick", "orient": "horizontal", "size": 8, "thickness": 1.2, "color": "black"}, "encoding": {"y": {"field": "hi", "type": "quantitative"}}},
     {"data": {"name": "f_pts"}, "mark": {"type": "point", "filled": true, "opacity": 1, "size": 50, "stroke": "black", "strokeWidth": 1.3}, "encoding": {"fill": {"field": "group", "type": "nominal", "scale": {"domain": ["Control (6)", "sTNFR1-Fc (7)"], "range": ["white", "black"]}, "legend": {"orient": "none", "legendX": 10, "legendY": -2, "title": null, "rowPadding": -2.5, "symbolSize": 50, "encode": {"symbols": {"update": {"stroke": {"value": "black"}, "strokeWidth": {"value": 1.3}}}}}}}},
     {"data": {"name": "f_stars"}, "mark": {"type": "text", "text": "*", "fontSize": 12, "baseline": "middle"}, "encoding": {}}
    ]},
 {"width": 1, "height": 1, "data": {"values": []}, "mark": "point"},
 {"width": 140, "height": 125, "title": {"text": "g", "dx": -28, "offset": 5},
    "encoding": {"x": {"field": "x", "type": "quantitative", "scale": {"domain": [1.26, 102.2]}, "axis": {"values": [20,40,60,80,100], "title": ["Transmural pressure", "(mmHg)"]}},
      "y": {"field": "y", "type": "quantitative", "scale": {"domain": [0, 50]}, "axis": {"values": [0,10,20,30,40,50], "title": ["Tone", "(% of diaₘₐₓ)"]}}},
    "layer": [
     {"data": {"name": "g_curve"}, "mark": {"type": "line", "interpolate": "monotone", "color": "black", "strokeWidth": 1.4}, "encoding": {"detail": {"field": "group"}}},
     {"data": {"name": "g_pts"}, "mark": {"type": "rule", "color": "black", "strokeWidth": 1.2}, "encoding": {"y": {"field": "lo", "type": "quantitative"}, "y2": {"field": "hi"}}},
     {"data": {"name": "g_pts"}, "mark": {"type": "tick", "orient": "horizontal", "size": 8, "thickness": 1.2, "color": "black"}, "encoding": {"y": {"field": "lo", "type": "quantitative"}}},
     {"data": {"name": "g_pts"}, "mark": {"type": "tick", "orient": "horizontal", "size": 8, "thickness": 1.2, "color": "black"}, "encoding": {"y": {"field": "hi", "type": "quantitative"}}},
     {"data": {"name": "g_pts"}, "mark": {"type": "point", "filled": true, "opacity": 1, "size": 50, "stroke": "black", "strokeWidth": 1.3}, "encoding": {"fill": {"field": "group", "type": "nominal", "scale": {"domain": ["Control (7)", "sTNFR1-Fc (7)"], "range": ["white", "black"]}, "legend": {"orient": "none", "legendX": 17, "legendY": -3, "title": null, "rowPadding": -2, "symbolSize": 50, "encode": {"symbols": {"update": {"stroke": {"value": "black"}, "strokeWidth": {"value": 1.3}}}}}}}},
     {"data": {"name": "g_note"}, "mark": {"type": "text", "align": "right", "baseline": "middle", "fontStyle": "italic", "fontSize": 10}, "encoding": {"text": {"field": "label"}}}
    ]},
 {"width": 1, "height": 1, "data": {"values": []}, "mark": "point"},
 {"width": 131, "height": 129, "title": {"text": "h", "dx": -40, "offset": -29},
    "encoding": {"x": {"field": "x", "type": "quantitative", "scale": {"domain": [0.361, 2.508]}, "axis": {"values": [1, 2], "labelExpr": "datum.value == 1 ? 'Control (6)' : 'sTNFR1-Fc (6)'", "ticks": false, "labelPadding": 6, "labelFontSize": 9, "title": null}},
      "y": {"field": "y", "type": "quantitative", "scale": {"domain": [0, 2.15]}, "axis": {"values": [0,0.5,1,1.5,2], "format": ".1f", "domain": false, "title": ["Phospho-ERK1/2", "(normalized for total Erk1/2 ratio)"]}}},
    "layer": [
     {"data": {"values": [{}]}, "mark": {"type": "rule", "color": "black", "strokeWidth": 1.4}, "encoding": {"x": {"datum": 0.361}, "y": {"datum": 0}, "y2": {"datum": 2}}},
     {"data": {"name": "h_bars"}, "mark": {"type": "bar", "width": 42, "stroke": "black", "strokeWidth": 1.5}, "encoding": {"y": {"field": "y", "type": "quantitative", "stack": null}, "fill": {"field": "group", "type": "nominal", "scale": {"domain": ["Control (6)", "sTNFR1-Fc (6)"], "range": ["white", "black"]}, "legend": null}}},
     {"data": {"name": "h_bars"}, "mark": {"type": "rule", "color": "black", "strokeWidth": 1.5}, "encoding": {"y2": {"field": "hi"}}},
     {"data": {"name": "h_bars"}, "mark": {"type": "tick", "orient": "horizontal", "size": 22, "thickness": 1.5, "color": "black"}, "encoding": {"y": {"field": "hi", "type": "quantitative"}}},
     {"data": {"name": "h_star"}, "mark": {"type": "text", "text": "*", "fontSize": 11, "baseline": "middle"}, "encoding": {}},
     {"data": {"name": "h_blot"}, "mark": {"type": "rect", "color": "#111", "cornerRadius": 2}, "encoding": {"x2": {"field": "x2"}, "y2": {"field": "y2"}, "opacity": {"field": "intensity", "type": "quantitative", "scale": null}}},
     {"data": {"name": "h_kda"}, "mark": {"type": "text", "align": "right", "baseline": "middle", "fontSize": 8}, "encoding": {"text": {"field": "label"}}},
     {"data": {"name": "h_lab"}, "mark": {"type": "text", "align": "left", "baseline": "middle", "fontSize": 10}, "encoding": {"text": {"field": "label"}}},
     {"data": {"name": "h_head"}, "mark": {"type": "text", "align": "center", "baseline": "middle", "fontSize": 10}, "encoding": {"text": {"field": "label"}}}
    ]},

 {"width": 1, "height": 74, "data": {"values": []}, "mark": "point"},
 {"width": 1, "height": 1, "data": {"values": []}, "mark": "point"},
 {"width": 1, "height": 1, "data": {"values": []}, "mark": "point"},
 {"width": 1, "height": 1, "data": {"values": []}, "mark": "point"},
 {"width": 1, "height": 1, "data": {"values": []}, "mark": "point"},
 {"width": 1, "height": 1, "data": {"values": []}, "mark": "point"},
 {"width": 1, "height": 1, "data": {"values": []}, "mark": "point"},
 {"width": 1, "height": 1, "data": {"values": []}, "mark": "point"},

 {"width": 1, "height": 1, "data": {"values": []}, "mark": "point"},
 {"width": 133, "height": 144, "title": {"text": "i", "dx": -43, "offset": -11},
    "encoding": {"x": {"field": "x", "type": "quantitative", "scale": {"domain": [0.447, 2.61]}, "axis": {"values": [1, 2], "labelExpr": "datum.value == 1 ? 'Control (9)' : 'sTNFR1-Fc (8)'", "ticks": false, "labelPadding": 6, "labelFontSize": 9, "title": null}},
      "y": {"field": "y", "type": "quantitative", "scale": {"domain": [0, 13.94]}, "axis": {"values": [0,2,4,6,8,10,12], "domain": false, "title": ["Phospho-ERK1/2", "( fold difference from control)"]}}},
    "layer": [
     {"data": {"values": [{}]}, "mark": {"type": "rule", "color": "black", "strokeWidth": 1.4}, "encoding": {"x": {"datum": 0.447}, "y": {"datum": 0}, "y2": {"datum": 12}}},
     {"data": {"name": "i_bars"}, "mark": {"type": "bar", "width": 42, "stroke": "black", "strokeWidth": 1.5}, "encoding": {"y": {"field": "y", "type": "quantitative", "stack": null}, "fill": {"field": "group", "type": "nominal", "scale": {"domain": ["Control (9)", "sTNFR1-Fc (8)"], "range": ["white", "black"]}, "legend": null}}},
     {"data": {"name": "i_bars"}, "mark": {"type": "rule", "color": "black", "strokeWidth": 1.5}, "encoding": {"y2": {"field": "hi"}}},
     {"data": {"name": "i_bars"}, "mark": {"type": "tick", "orient": "horizontal", "size": 22, "thickness": 1.5, "color": "black"}, "encoding": {"y": {"field": "hi", "type": "quantitative"}}},
     {"data": {"name": "i_star"}, "mark": {"type": "text", "text": "*", "fontSize": 11, "baseline": "middle"}, "encoding": {}},
     {"data": {"name": "i_blot"}, "mark": {"type": "rect", "color": "#111", "cornerRadius": 2}, "encoding": {"x2": {"field": "x2"}, "y2": {"field": "y2"}, "opacity": {"field": "intensity", "type": "quantitative", "scale": null}}},
     {"data": {"name": "i_kda"}, "mark": {"type": "text", "align": "right", "baseline": "middle", "fontSize": 8}, "encoding": {"text": {"field": "label"}}},
     {"data": {"name": "i_lab"}, "mark": {"type": "text", "align": "left", "baseline": "middle", "fontSize": 10}, "encoding": {"text": {"field": "label"}}},
     {"data": {"name": "i_head"}, "mark": {"type": "text", "align": "center", "baseline": "middle", "fontSize": 10}, "encoding": {"text": {"field": "label"}}}
    ]},
 {"width": 1, "height": 1, "data": {"values": []}, "mark": "point"},
 {"width": 127, "height": 143, "title": {"text": "j", "dx": -48, "offset": -11},
    "encoding": {"x": {"field": "x", "type": "quantitative", "scale": {"domain": [0.568, 2.6]}, "axis": {"values": [1, 2], "labelExpr": "datum.value == 1 ? 'Control (9)' : 'sTNFR1-Fc (10)'", "ticks": false, "labelPadding": 6, "labelFontSize": 9, "title": null}},
      "y": {"field": "y", "type": "quantitative", "scale": {"domain": [0, 2.98]}, "axis": {"values": [0,0.5,1,1.5,2,2.5], "format": ".1f", "domain": false, "title": ["Phospho-ERK1/2", "( fold difference from control)"]}}},
    "layer": [
     {"data": {"values": [{}]}, "mark": {"type": "rule", "color": "black", "strokeWidth": 1.4}, "encoding": {"x": {"datum": 0.568}, "y": {"datum": 0}, "y2": {"datum": 2.5}}},
     {"data": {"name": "j_bars"}, "mark": {"type": "bar", "width": 42, "stroke": "black", "strokeWidth": 1.5}, "encoding": {"y": {"field": "y", "type": "quantitative", "stack": null}, "fill": {"field": "group", "type": "nominal", "scale": {"domain": ["Control (9)", "sTNFR1-Fc (10)"], "range": ["white", "black"]}, "legend": null}}},
     {"data": {"name": "j_bars"}, "mark": {"type": "rule", "color": "black", "strokeWidth": 1.5}, "encoding": {"y2": {"field": "hi"}}},
     {"data": {"name": "j_bars"}, "mark": {"type": "tick", "orient": "horizontal", "size": 22, "thickness": 1.5, "color": "black"}, "encoding": {"y": {"field": "hi", "type": "quantitative"}}},
     {"data": {"name": "j_star"}, "mark": {"type": "text", "text": "*", "fontSize": 11, "baseline": "middle"}, "encoding": {}},
     {"data": {"name": "j_blot"}, "mark": {"type": "rect", "color": "#111", "cornerRadius": 2}, "encoding": {"x2": {"field": "x2"}, "y2": {"field": "y2"}, "opacity": {"field": "intensity", "type": "quantitative", "scale": null}}},
     {"data": {"name": "j_kda"}, "mark": {"type": "text", "align": "right", "baseline": "middle", "fontSize": 8}, "encoding": {"text": {"field": "label"}}},
     {"data": {"name": "j_lab"}, "mark": {"type": "text", "align": "left", "baseline": "middle", "fontSize": 10}, "encoding": {"text": {"field": "label"}}},
     {"data": {"name": "j_head"}, "mark": {"type": "text", "align": "center", "baseline": "middle", "fontSize": 10}, "encoding": {"text": {"field": "label"}}}
    ]},
 {"width": 1, "height": 1, "data": {"values": []}, "mark": "point"},
 {"width": 143, "height": 113, "title": {"text": "k", "dx": -35, "offset": 2},
    "encoding": {"x": {"field": "t", "type": "quantitative", "scale": {"domain": [-230.6, 800]}, "axis": {"values": [0,200,400,600,800], "offset": 19, "title": "Time (s)"}},
      "y": {"field": "y", "type": "quantitative", "scale": {"domain": [0.8, 1.2]}, "axis": {"values": [0.8,0.9,1.0,1.1,1.2], "format": ".1f", "offset": -11, "title": ["Diameter", "(normalized to dia₈₀ₘₘHg)"]}}},
    "layer": [
     {"data": {"name": "k_pts"}, "mark": {"type": "rule", "strokeWidth": 1.1}, "encoding": {"y": {"field": "lo", "type": "quantitative"}, "y2": {"field": "hi"}, "color": {"field": "group", "type": "nominal", "scale": {"domain": ["PD98059 (8)", "PD98059 + sTNFRI-Fc (8)"], "range": ["#4a7bd0", "#e58a86"]}, "legend": null}}},
     {"data": {"name": "k_pts"}, "mark": {"type": "tick", "orient": "horizontal", "size": 5, "thickness": 1.1}, "encoding": {"y": {"field": "lo", "type": "quantitative"}, "color": {"field": "group", "type": "nominal", "scale": {"domain": ["PD98059 (8)", "PD98059 + sTNFRI-Fc (8)"], "range": ["#4a7bd0", "#e58a86"]}, "legend": null}}},
     {"data": {"name": "k_pts"}, "mark": {"type": "tick", "orient": "horizontal", "size": 5, "thickness": 1.1}, "encoding": {"y": {"field": "hi", "type": "quantitative"}, "color": {"field": "group", "type": "nominal", "scale": {"domain": ["PD98059 (8)", "PD98059 + sTNFRI-Fc (8)"], "range": ["#4a7bd0", "#e58a86"]}, "legend": null}}},
     {"data": {"name": "k_pts"}, "mark": {"type": "point", "filled": true, "opacity": 1, "size": 45, "strokeWidth": 1.2}, "encoding": {"fill": {"field": "group", "type": "nominal", "scale": {"domain": ["PD98059 (8)", "PD98059 + sTNFRI-Fc (8)"], "range": ["#6f9fe2", "#f5b7b4"]}, "legend": {"orient": "none", "legendX": 17, "legendY": -4, "title": null, "rowPadding": 0.7, "labelOffset": 3, "symbolSize": 45}}, "stroke": {"field": "group", "type": "nominal", "scale": {"domain": ["PD98059 (8)", "PD98059 + sTNFRI-Fc (8)"], "range": ["#4677cc", "#e2807c"]}, "legend": {"orient": "none", "legendX": 17, "legendY": -4, "title": null, "rowPadding": 0.7, "labelOffset": 3, "symbolSize": 45}}}},
     {"data": {"name": "k_arrow"}, "mark": {"type": "rule", "color": "black", "strokeWidth": 1.2}, "encoding": {"y2": {"field": "y2"}}},
     {"data": {"name": "k_arrow"}, "mark": {"type": "point", "shape": "triangle-down", "filled": true, "opacity": 1, "color": "black", "size": 30}, "encoding": {"y": {"field": "y2", "type": "quantitative"}}}
    ]},
 {"width": 1, "height": 1, "data": {"values": []}, "mark": "point"},
 {"width": 137, "height": 131, "title": {"text": "l", "dx": -37, "offset": 10},
    "encoding": {"x": {"field": "x", "type": "quantitative", "scale": {"domain": [2.22, 103.7]}, "axis": {"values": [20,40,60,80,100], "title": ["Transmural pressure", "(mmHg)"]}},
      "y": {"field": "y", "type": "quantitative", "scale": {"domain": [0, 54.13]}, "axis": {"values": [0,10,20,30,40,50], "domain": false, "title": ["Tone", "(% of diaₘₐₓ)"]}}},
    "layer": [
     {"data": {"values": [{}]}, "mark": {"type": "rule", "color": "black", "strokeWidth": 1.4}, "encoding": {"x": {"datum": 2.22}, "y": {"datum": 0}, "y2": {"datum": 50}}},
     {"data": {"name": "l_curve"}, "mark": {"type": "line", "interpolate": "monotone", "color": "black", "strokeWidth": 1.4}, "encoding": {"detail": {"field": "group"}}},
     {"data": {"name": "l_pts"}, "mark": {"type": "rule", "color": "black", "strokeWidth": 1.2}, "encoding": {"y": {"field": "lo", "type": "quantitative"}, "y2": {"field": "hi"}}},
     {"data": {"name": "l_pts"}, "mark": {"type": "tick", "orient": "horizontal", "size": 8, "thickness": 1.2, "color": "black"}, "encoding": {"y": {"field": "lo", "type": "quantitative"}}},
     {"data": {"name": "l_pts"}, "mark": {"type": "tick", "orient": "horizontal", "size": 8, "thickness": 1.2, "color": "black"}, "encoding": {"y": {"field": "hi", "type": "quantitative"}}},
     {"data": {"name": "l_pts"}, "mark": {"type": "point", "filled": true, "opacity": 1, "size": 50, "stroke": "black", "strokeWidth": 1.3}, "encoding": {"fill": {"field": "group", "type": "nominal", "scale": {"domain": ["Control (7)", "sTNFR1-Fc (7)"], "range": ["white", "black"]}, "legend": {"orient": "none", "legendX": 15, "legendY": 6, "title": null, "rowPadding": 2.4, "symbolSize": 50, "encode": {"symbols": {"update": {"stroke": {"value": "black"}, "strokeWidth": {"value": 1.3}}}}}}}},
     {"data": {"name": "l_note"}, "mark": {"type": "text", "align": "right", "baseline": "middle", "fontStyle": "italic", "fontSize": 10}, "encoding": {"text": {"field": "label"}}}
    ]},

 {"width": 1, "height": 47, "data": {"values": []}, "mark": "point"},
 {"width": 1, "height": 1, "data": {"values": []}, "mark": "point"},
 {"width": 1, "height": 1, "data": {"values": []}, "mark": "point"},
 {"width": 1, "height": 1, "data": {"values": []}, "mark": "point"},
 {"width": 1, "height": 1, "data": {"values": []}, "mark": "point"},
 {"width": 1, "height": 1, "data": {"values": []}, "mark": "point"},
 {"width": 1, "height": 1, "data": {"values": []}, "mark": "point"},
 {"width": 1, "height": 1, "data": {"values": []}, "mark": "point"},

 {"width": 1, "height": 1, "data": {"values": []}, "mark": "point"},
 {"width": 132, "height": 124, "title": {"text": "m", "dx": -48, "offset": -4},
    "encoding": {"x": {"field": "x", "type": "quantitative", "scale": {"domain": [8, 104]}, "axis": {"values": [20,40,60,80,100], "title": ["Transmural pressure", "(mmHg)"]}},
      "y": {"field": "y", "type": "quantitative", "scale": {"domain": [0, 40]}, "axis": {"values": [0,10,20,30,40], "title": ["Tone", "(% diaₘₐₓ)"]}}},
    "layer": [
     {"data": {"name": "m_curve"}, "mark": {"type": "line", "interpolate": "monotone", "color": "black", "strokeWidth": 1.4}, "encoding": {"detail": {"field": "group"}}},
     {"data": {"name": "m_pts"}, "mark": {"type": "rule", "color": "black", "strokeWidth": 1.2}, "encoding": {"y": {"field": "lo", "type": "quantitative"}, "y2": {"field": "hi"}}},
     {"data": {"name": "m_pts"}, "mark": {"type": "tick", "orient": "horizontal", "size": 8, "thickness": 1.2, "color": "black"}, "encoding": {"y": {"field": "lo", "type": "quantitative"}}},
     {"data": {"name": "m_pts"}, "mark": {"type": "tick", "orient": "horizontal", "size": 8, "thickness": 1.2, "color": "black"}, "encoding": {"y": {"field": "hi", "type": "quantitative"}}},
     {"data": {"name": "m_pts"}, "mark": {"type": "point", "filled": true, "opacity": 1, "size": 50, "stroke": "black", "strokeWidth": 1.3}, "encoding": {"fill": {"field": "group", "type": "nominal", "scale": {"domain": ["Control (7)", "ETN (7)"], "range": ["white", "black"]}, "legend": {"orient": "none", "legendX": 3, "legendY": 1, "title": null, "rowPadding": -0.3, "symbolSize": 50, "encode": {"symbols": {"update": {"stroke": {"value": "black"}, "strokeWidth": {"value": 1.3}}}}}}}},
     {"data": {"name": "m_stars"}, "mark": {"type": "text", "text": "*", "fontSize": 12, "baseline": "middle"}, "encoding": {}},
     {"data": {"name": "m_note"}, "mark": {"type": "text", "align": "left", "baseline": "middle", "fontStyle": "italic", "fontSize": 10}, "encoding": {"text": {"field": "label"}}}
    ]},
 {"width": 1, "height": 1, "data": {"values": []}, "mark": "point"},
 {"width": 129, "height": 124, "title": {"text": "n", "dx": -52, "offset": -4},
    "encoding": {"x": {"field": "x", "type": "quantitative", "scale": {"domain": [8.26, 102.9]}, "axis": {"values": [20,40,60,80,100], "title": ["Transmural pressure", "(mmHg)"]}},
      "y": {"field": "y", "type": "quantitative", "scale": {"domain": [0, 40]}, "axis": {"values": [0,10,20,30,40], "title": ["Tone", "(% diaₘₐₓ)"]}}},
    "layer": [
     {"data": {"name": "n_curve"}, "mark": {"type": "line", "interpolate": "monotone", "color": "black", "strokeWidth": 1.4}, "encoding": {"detail": {"field": "group"}}},
     {"data": {"name": "n_pts"}, "mark": {"type": "rule", "color": "black", "strokeWidth": 1.2}, "encoding": {"y": {"field": "lo", "type": "quantitative"}, "y2": {"field": "hi"}}},
     {"data": {"name": "n_pts"}, "mark": {"type": "tick", "orient": "horizontal", "size": 8, "thickness": 1.2, "color": "black"}, "encoding": {"y": {"field": "lo", "type": "quantitative"}}},
     {"data": {"name": "n_pts"}, "mark": {"type": "tick", "orient": "horizontal", "size": 8, "thickness": 1.2, "color": "black"}, "encoding": {"y": {"field": "hi", "type": "quantitative"}}},
     {"data": {"name": "n_pts"}, "mark": {"type": "point", "filled": true, "opacity": 1, "size": 50, "stroke": "black", "strokeWidth": 1.3}, "encoding": {"fill": {"field": "group", "type": "nominal", "scale": {"domain": ["Control (5)", "ETN (5)"], "range": ["white", "black"]}, "legend": {"orient": "none", "legendX": 2, "legendY": 1, "title": null, "rowPadding": -0.3, "symbolSize": 50, "encode": {"symbols": {"update": {"stroke": {"value": "black"}, "strokeWidth": {"value": 1.3}}}}}}}},
     {"data": {"name": "n_note"}, "mark": {"type": "text", "align": "left", "baseline": "middle", "fontStyle": "italic", "fontSize": 10}, "encoding": {"text": {"field": "label"}}}
    ]},
 {"width": 1, "height": 1, "data": {"values": []}, "mark": "point"},
 {"width": 1, "height": 1, "data": {"values": []}, "mark": "point"},
 {"width": 1, "height": 1, "data": {"values": []}, "mark": "point"},
 {"width": 1, "height": 1, "data": {"values": []}, "mark": "point"}
]
}
